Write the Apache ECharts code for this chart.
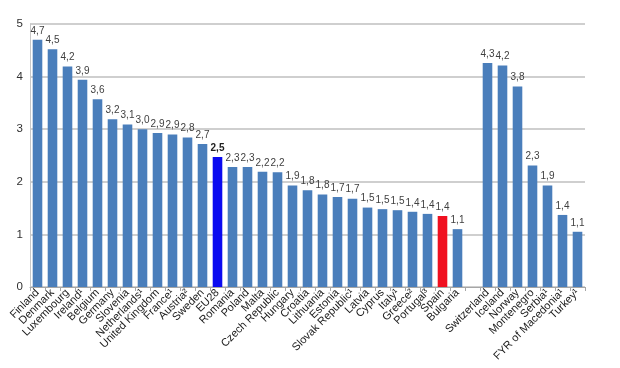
<!DOCTYPE html>
<html><head><meta charset="utf-8">
<script src="https://cdn.jsdelivr.net/npm/echarts@6/dist/echarts.min.js"></script>
<style>html,body{margin:0;padding:0;background:#fff}#c{width:620px;height:368px}</style>
</head><body><div id="c"></div>
<script>
const categories = ['Finland','Denmark','Luxembourg','Ireland¹','Belgium','Germany','Slovenia','Netherlands¹','United Kingdom','France¹','Austria²','Sweden','EU28','Romania','Poland','Malta','Czech Republic','Hungary','Croatia','Lithuania','Estonia','Slovak Republic¹','Latvia','Cyprus','Italy¹','Greece²','Portugal³','Spain','Bulgaria','','Switzerland','Iceland','Norway','Montenegro','Serbia¹','FYR of Macedonia¹','Turkey¹'];
const values = [4.70,4.52,4.19,3.94,3.57,3.19,3.09,3.00,2.93,2.90,2.84,2.72,2.47,2.28,2.28,2.19,2.18,1.93,1.84,1.76,1.71,1.68,1.51,1.48,1.46,1.43,1.39,1.35,1.10,null,4.26,4.21,3.81,2.31,1.93,1.37,1.05];
const yTicks = [0,1,2,3,4,5];
const highlight = {'EU28':'#0A0AF0','Spain':'#F01020'};
const baseColor = '#4A7EBB';

const chart = echarts.init(document.getElementById('c'));
chart.setOption({
  animation:false,
  grid:{left:30,right:35,top:24,bottom:81},
  xAxis:{type:'category',data:categories,
    axisLine:{lineStyle:{color:'#A6A6A6'}},
    axisTick:{show:true,alignWithLabel:false,length:4,lineStyle:{color:'#A6A6A6'}},
    axisLabel:{interval:0,rotate:45,fontSize:11,color:'#202020',fontFamily:'Liberation Sans, Arial',margin:4}},
  yAxis:{type:'value',min:yTicks[0],max:yTicks[yTicks.length-1],interval:1,
    axisLine:{show:true,lineStyle:{color:'#C8C8C8'}},
    axisTick:{show:false},
    splitLine:{lineStyle:{color:'#BFBFBF',width:1.5}},
    axisLabel:{fontSize:11.5,color:'#303030',fontFamily:'Liberation Sans, Arial',margin:7}},
  series:[{type:'bar',barCategoryGap:'36%',
    data:values.map((v,i)=>({value:v,itemStyle:{color:highlight[categories[i]]||baseColor}})),
    label:{show:true,position:'top',distance:4,fontSize:10,color:'#404040',fontFamily:'Liberation Sans, Arial',
      formatter:p=>{ if(p.value==null) return ''; const s=p.value.toFixed(1).replace('.',','); return p.name==='EU28'?'{b|'+s+'}':s; },
      rich:{b:{fontWeight:'bold',fontSize:10,color:'#202020',fontFamily:'Liberation Sans, Arial'}}}
  }]
});
</script></body></html>
